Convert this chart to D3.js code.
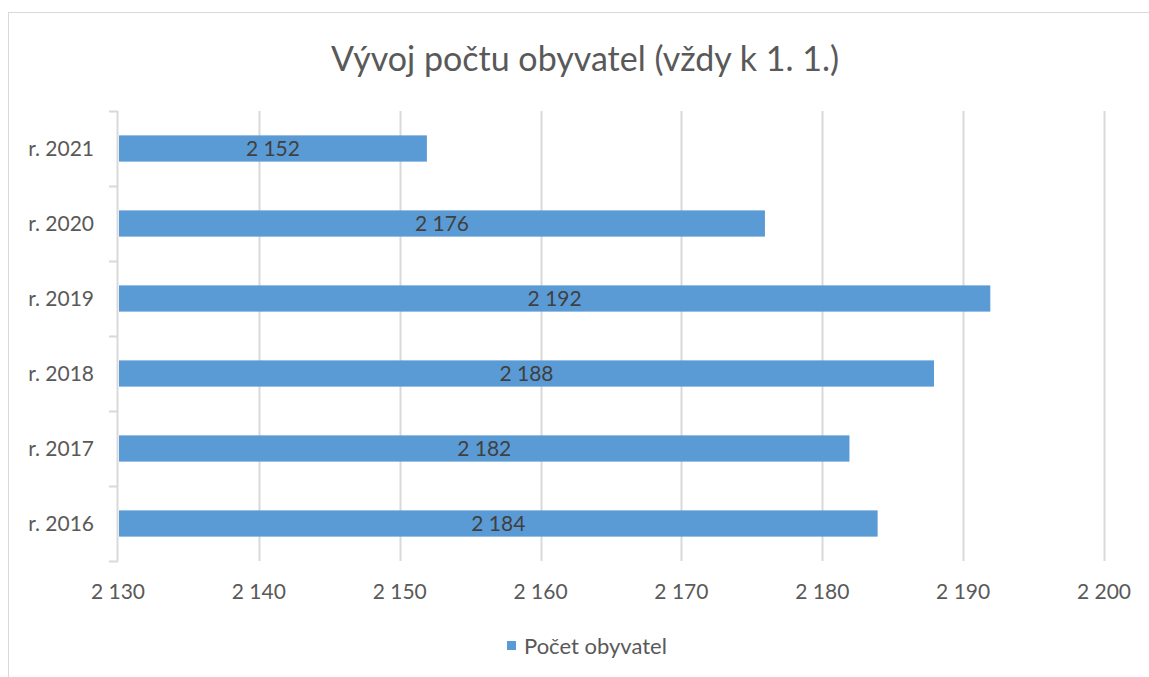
<!DOCTYPE html>
<html><head><meta charset="utf-8">
<script src="https://cdn.jsdelivr.net/npm/d3@7"></script>
<style>body{margin:0;background:#fff}svg{display:block}</style>
</head><body>
<script>
const categories = ["r. 2016","r. 2017","r. 2018","r. 2019","r. 2020","r. 2021"];
const values = [2184, 2182, 2188, 2192, 2176, 2152];
const xTicks = [2130, 2140, 2150, 2160, 2170, 2180, 2190, 2200];
const title = "Vývoj počtu obyvatel (vždy k 1. 1.)";
const seriesName = "Počet obyvatel";

const W = 1149, H = 677;
const font = "Lato, 'Open Sans', sans-serif";
const svg = d3.select("body").append("svg").attr("width", W).attr("height", H);
svg.append("rect").attr("x", 8.5).attr("y", 12.5).attr("width", W + 10).attr("height", H + 10)
  .attr("fill", "#fff").attr("stroke", "#d9d9d9").attr("stroke-width", 1);

const m = {left: 118, right: 1104, top: 111, bottom: 561};
const x = d3.scaleLinear().domain([2130, 2200]).range([m.left, m.right]);
const y = d3.scaleBand().domain(categories.slice().reverse()).range([m.top, m.bottom]).paddingInner(0.65).paddingOuter(0.325);
const yb = d3.scaleBand().domain(categories.slice().reverse()).range([m.top, m.bottom]);

// gridlines
svg.append("g").selectAll("line").data(xTicks.slice(1)).join("line")
  .attr("x1", d => Math.round(x(d)) + 0.5).attr("x2", d => Math.round(x(d)) + 0.5)
  .attr("y1", m.top).attr("y2", m.bottom).attr("stroke", "#d9d9d9").attr("stroke-width", 2);

// y axis line + ticks
const yAxis = svg.append("g");
yAxis.append("line").attr("x1", m.left - 0.5).attr("x2", m.left - 0.5).attr("y1", m.top).attr("y2", m.bottom)
  .attr("stroke", "#d9d9d9").attr("stroke-width", 2);
const tickYs = categories.map(c => yb(c)).concat([m.bottom]);
yAxis.selectAll("line.t").data(tickYs).join("line").attr("class", "t")
  .attr("x1", m.left - 9).attr("x2", m.left).attr("y1", d => Math.round(d) + 0.5).attr("y2", d => Math.round(d) + 0.5)
  .attr("stroke", "#d9d9d9").attr("stroke-width", 2);
yAxis.selectAll("text").data(categories).join("text")
  .attr("x", 94).attr("y", d => yb(d) + yb.bandwidth() / 2).attr("dy", "0.35em")
  .attr("text-anchor", "end").attr("font-family", font).attr("font-size", 21).attr("fill", "#595959").text(d => d);

// bars
const data = categories.map((c, i) => ({c, v: values[i]}));
svg.append("g").selectAll("rect").data(data).join("rect")
  .attr("x", x(2130) + 1).attr("y", d => y(d.c)).attr("width", d => x(d.v) - x(2130) - 2).attr("height", y.bandwidth())
  .attr("fill", "#5b9bd5");
const fmt = v => d3.format(",")(v).replace(/,/g, " ");
svg.append("g").selectAll("text").data(data).join("text")
  .attr("x", d => (x(2130) + x(d.v)) / 2).attr("y", d => y(d.c) + y.bandwidth() / 2).attr("dy", "0.35em")
  .attr("text-anchor", "middle").attr("font-family", font).attr("font-size", 21).attr("fill", "#404040").text(d => fmt(d.v));

// x tick labels
svg.append("g").selectAll("text").data(xTicks).join("text")
  .attr("x", d => x(d)).attr("y", 592).attr("dy", "0.35em").attr("text-anchor", "middle")
  .attr("font-family", font).attr("font-size", 21).attr("fill", "#595959").text(d => fmt(d));

// title
svg.append("text").attr("x", 585).attr("y", 59).attr("dy", "0.35em").attr("text-anchor", "middle")
  .attr("font-family", font).attr("font-size", 34).attr("fill", "#595959").text(title);

// legend
const lg = svg.append("g");
lg.append("rect").attr("x", 507).attr("y", 641).attr("width", 9).attr("height", 9).attr("fill", "#5b9bd5");
lg.append("text").attr("x", 524).attr("y", 646).attr("dy", "0.35em").attr("font-family", font).attr("font-size", 22)
  .attr("fill", "#595959").text(seriesName);
</script>
</body></html>
